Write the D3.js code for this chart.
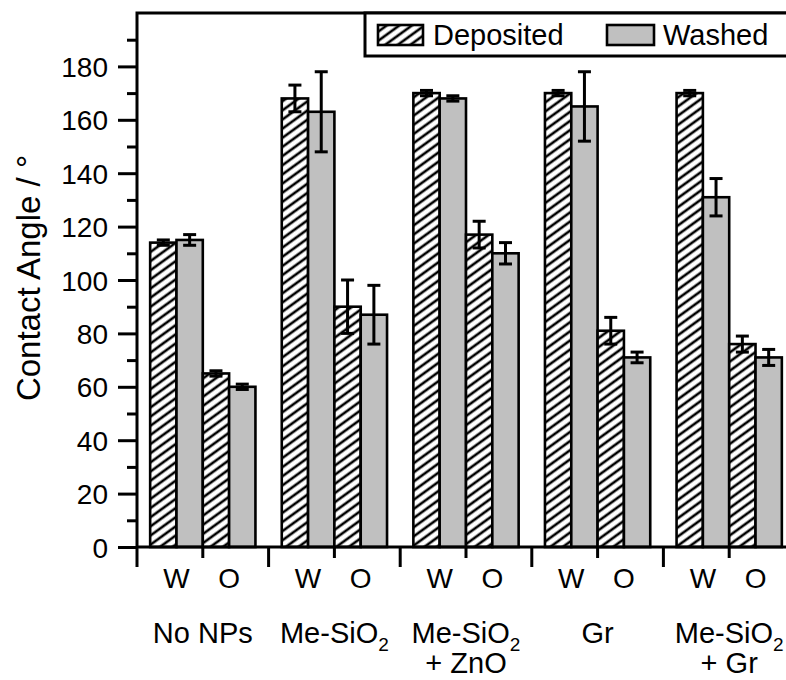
<!DOCTYPE html>
<html>
<meta charset="utf-8">
<style>
body {
  margin: 0;
  background: #fff;
  font-family: "Liberation Sans", Arial, Helvetica, sans-serif;
}
svg { display: block; }
text { font-family: "Liberation Sans", Arial, Helvetica, sans-serif; fill: #000; }
.frame { fill: none; stroke: #000; stroke-width: 3; }
.bar { stroke: #000; stroke-width: 2.6; }
.err { stroke: #000; stroke-width: 3; fill: none; }
</style>
<body>
<script src="https://cdn.jsdelivr.net/npm/d3@7"></script>
<script>
// data
var groups = ["No NPs", "Me-SiO2", "Me-SiO2 + ZnO", "Gr", "Me-SiO2 + Gr"];
var depW = [114, 168, 170, 170, 170];
var depWErr = [1, 5, 1, 1, 1];
var washW = [115, 163, 168, 165, 131];
var washWErr = [2, 15, 1, 13, 7];
var depO = [65, 90, 117, 81, 76];
var depOErr = [1, 10, 5, 5, 3];
var washO = [60, 87, 110, 71, 71];
var washOErr = [1, 11, 4, 2, 3];
var subLabels = ["W", "O"];
var yTicks = [0, 20, 40, 60, 80, 100, 120, 140, 160, 180];
var yMinor = [10, 30, 50, 70, 90, 110, 130, 150, 170, 190];

var W = 786, H = 680;
var pLeft = 137, pTop = 13, pBottom = 547, pRight = 795;

var svg = d3.select("body").append("svg")
    .attr("width", W)
    .attr("height", H);

var defs = svg.append("defs");
var hatch = defs.append("pattern")
    .attr("id", "hatch")
    .attr("patternUnits", "userSpaceOnUse")
    .attr("width", 10)
    .attr("height", 7.4)
    .attr("patternTransform", "rotate(-36)");
hatch.append("rect").attr("width", 10).attr("height", 7.4).attr("fill", "#fff");
hatch.append("line")
    .attr("x1", -1).attr("x2", 11)
    .attr("y1", 3.7).attr("y2", 3.7)
    .attr("stroke", "#000").attr("stroke-width", 2.6);

var y = d3.scaleLinear().domain([0, 200]).range([pBottom, pTop]);
var x0 = d3.scaleBand().domain(groups).range([pLeft, pRight]);
var keys = ["Wd", "Ww", "Od", "Ow"];
var x1 = d3.scaleBand().domain(keys).range([0, x0.bandwidth()]).paddingOuter(0.5);

// table for the bars
var rows = [];
groups.forEach(function(g, i) {
  rows.push({g: g, k: "Wd", v: depW[i], e: depWErr[i], dep: true});
  rows.push({g: g, k: "Ww", v: washW[i], e: washWErr[i], dep: false});
  rows.push({g: g, k: "Od", v: depO[i], e: depOErr[i], dep: true});
  rows.push({g: g, k: "Ow", v: washO[i], e: washOErr[i], dep: false});
});

svg.selectAll(".bar")
    .data(rows)
    .enter().append("rect")
    .attr("class", "bar")
    .attr("x", function(d) { return x0(d.g) + x1(d.k); })
    .attr("width", x1.bandwidth())
    .attr("y", function(d) { return y(d.v); })
    .attr("height", function(d) { return y(0) - y(d.v); })
    .attr("fill", function(d) { return d.dep ? "url(#hatch)" : "#c0c0c0"; });

var err = svg.selectAll(".errg")
    .data(rows)
    .enter().append("g")
    .attr("class", "err")
    .attr("transform", function(d) { return "translate(" + (x0(d.g) + x1(d.k) + x1.bandwidth() / 2) + ",0)"; });
err.append("line")
    .attr("y1", function(d) { return y(d.v - d.e); })
    .attr("y2", function(d) { return y(d.v + d.e); });
err.append("line")
    .attr("x1", -6.5).attr("x2", 6.5)
    .attr("y1", function(d) { return y(d.v + d.e); })
    .attr("y2", function(d) { return y(d.v + d.e); });
err.append("line")
    .attr("x1", -6.5).attr("x2", 6.5)
    .attr("y1", function(d) { return y(d.v - d.e); })
    .attr("y2", function(d) { return y(d.v - d.e); });

// y axis
var yAxis = d3.axisLeft(y).tickValues(yTicks).tickSize(19).tickPadding(10);
var ya = svg.append("g")
    .attr("transform", "translate(" + pLeft + ",0)")
    .call(yAxis);
ya.select(".domain").remove();
ya.selectAll(".tick line").attr("stroke", "#000").attr("stroke-width", 3);
ya.selectAll(".tick text").attr("font-size", "28px").attr("dy", "0.36em");
var yb = svg.append("g")
    .attr("transform", "translate(" + pLeft + ",0)")
    .call(d3.axisLeft(y).tickValues(yMinor).tickSize(10).tickFormat(""));
yb.select(".domain").remove();
yb.selectAll(".tick line").attr("stroke", "#000").attr("stroke-width", 3);

// x axis: group boundaries and W/O split
var bounds = groups.map(function(g) { return x0(g); }).concat([pRight]);
svg.selectAll(".xmaj")
    .data(bounds)
    .enter().append("line")
    .attr("x1", function(d) { return d; }).attr("x2", function(d) { return d; })
    .attr("y1", pBottom).attr("y2", pBottom + 20)
    .attr("stroke", "#000").attr("stroke-width", 3);
svg.selectAll(".xmin")
    .data(groups)
    .enter().append("line")
    .attr("x1", function(d) { return x0(d) + x1("Od"); })
    .attr("x2", function(d) { return x0(d) + x1("Od"); })
    .attr("y1", pBottom).attr("y2", pBottom + 11)
    .attr("stroke", "#000").attr("stroke-width", 3);

groups.forEach(function(g) {
  svg.append("text")
      .attr("x", x0(g) + x1("Ww"))
      .attr("y", 588)
      .attr("text-anchor", "middle")
      .attr("font-size", "28px")
      .text(subLabels[0]);
  svg.append("text")
      .attr("x", x0(g) + x1("Ow"))
      .attr("y", 588)
      .attr("text-anchor", "middle")
      .attr("font-size", "28px")
      .text(subLabels[1]);
});

// group names, SiO2 gets a subscript
function groupLabel(g, line, yy) {
  var t = svg.append("text")
      .attr("x", x0(g) + x0.bandwidth() / 2)
      .attr("y", yy)
      .attr("text-anchor", "middle")
      .attr("font-size", "29px");
  var parts = line.split("2");
  if (parts.length > 1) {
    t.append("tspan").text(parts[0]);
    t.append("tspan").attr("font-size", "19px").attr("dy", 8).text("2");
    if (parts[1]) t.append("tspan").attr("dy", -8).text(parts[1]);
  } else {
    t.text(line);
  }
}
groups.forEach(function(g) {
  var lines = g.indexOf(" + ") > 0 ? [g.split(" + ")[0], "+ " + g.split(" + ")[1]] : [g];
  groupLabel(g, lines[0], 643);
  if (lines[1]) groupLabel(g, lines[1], 673);
});

// frame
svg.append("path")
    .attr("class", "frame")
    .attr("d", "M" + pLeft + "," + (pBottom + 1) + "V" + pTop + "H" + (pRight + 2));
svg.append("line")
    .attr("x1", pLeft - 1).attr("x2", pRight + 2)
    .attr("y1", pBottom).attr("y2", pBottom)
    .attr("stroke", "#000").attr("stroke-width", 3);

svg.append("text")
    .attr("transform", "translate(40," + 278 + ") rotate(-90)")
    .attr("text-anchor", "middle")
    .attr("font-size", "33px")
    .text("Contact Angle / \u00b0");

// legend
var lg = svg.append("g");
lg.append("rect")
    .attr("x", 365).attr("y", pTop)
    .attr("width", 440).attr("height", 43)
    .attr("fill", "#fff").attr("stroke", "#000").attr("stroke-width", 3);
lg.append("rect")
    .attr("class", "bar")
    .attr("x", 378).attr("y", 25).attr("width", 45).attr("height", 20)
    .attr("fill", "url(#hatch)");
lg.append("text")
    .attr("x", 433).attr("y", 45)
    .attr("font-size", "29px")
    .text("Deposited");
lg.append("rect")
    .attr("class", "bar")
    .attr("x", 607).attr("y", 25).attr("width", 47).attr("height", 20)
    .attr("fill", "#c0c0c0");
lg.append("text")
    .attr("x", 663).attr("y", 45)
    .attr("font-size", "29px")
    .text("Washed");
</script>
</body>
</html>
